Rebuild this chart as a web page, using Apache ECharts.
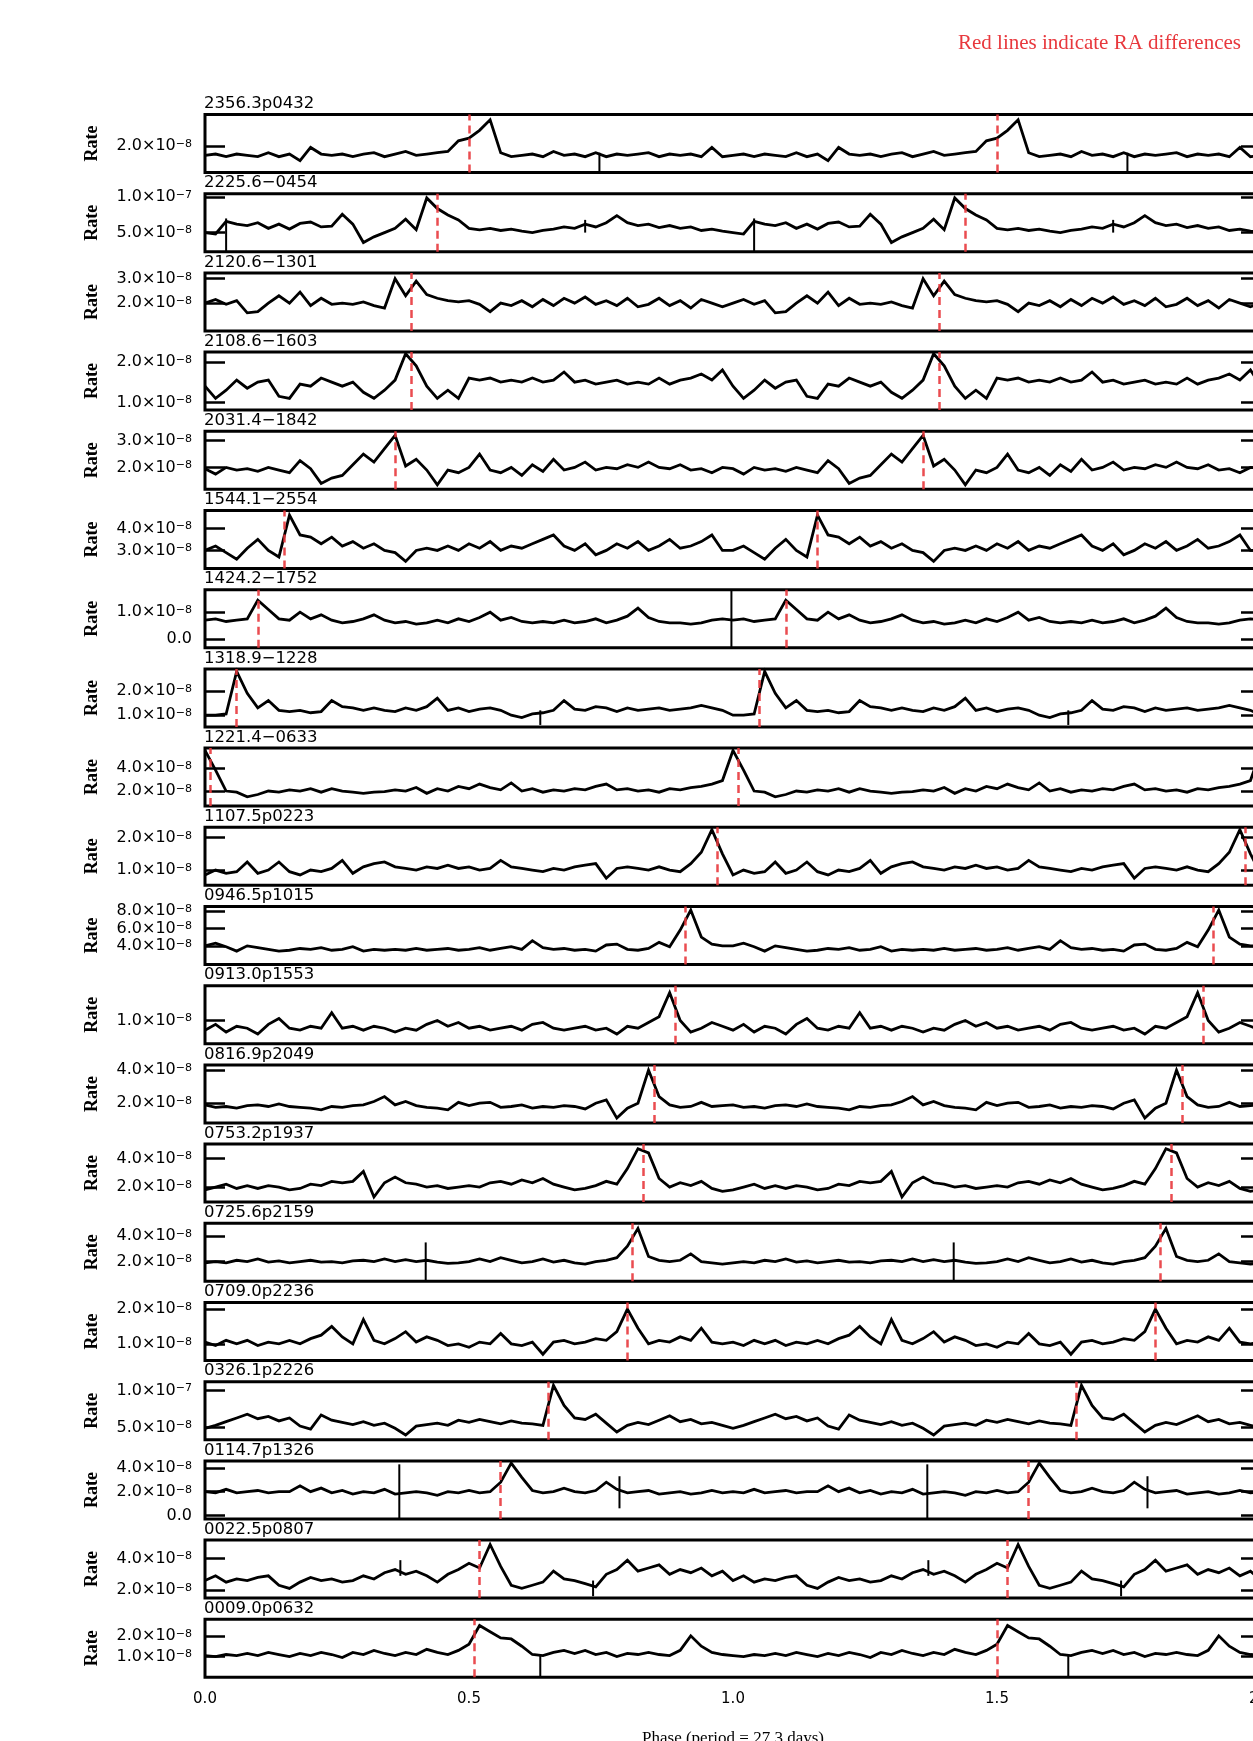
<!DOCTYPE html>
<html>
<head>
<meta charset="utf-8">
<script src="https://cdn.jsdelivr.net/npm/echarts@6/dist/echarts.min.js"></script>
<style>html,body{margin:0;padding:0;background:#fff}#c{width:1253px;height:1741px}</style>
</head>
<body>
<div id="c"></div>
<script>
// ---- data (rates in units of 1e-8; one folded cycle, bins of 0.02 in phase) ----
const PHASE_BIN = 0.02;
const sourceNames = ['2356.3p0432','2225.6\u22120454','2120.6\u22121301','2108.6\u22121603','2031.4\u22121842',
  '1544.1\u22122554','1424.2\u22121752','1318.9\u22121228','1221.4\u22120633','1107.5p0223','0946.5p1015',
  '0913.0p1553','0816.9p2049','0753.2p1937','0725.6p2159','0709.0p2236','0326.1p2226','0114.7p1326',
  '0022.5p0807','0009.0p0632'];
const redPhase = [0.50,0.44,0.39,0.385,0.358,0.155,0.10,0.055,0.015,0.968,0.91,0.885,0.85,0.835,0.815,0.80,0.647,0.555,0.518,0.505];
const yMin = [1.0,2.3,0.86,0.81,1.18,2.18,-0.33,0.52,0.7,0.53,1.87,0.4,0.81,0.94,0.45,0.52,3.36,-0.29,1.48,0.0];
const yMax = [3.2,10.5,3.24,2.24,3.35,4.81,1.84,2.9,5.7,2.32,8.5,1.9,4.31,5.02,5.0,2.19,11.2,4.59,5.18,2.8];
const yTickValues = [[2],[10,5],[3,2],[2,1],[3,2],[4,3],[1,0],[2,1],[4,2],[2,1],[8,6,4],[1],[4,2],[4,2],[4,2],[2,1],[10,5],[4,2,0],[4,2],[2,1]];
const xTickLabels = [0,0.5,1,1.5,2];

const rate_2356 = [1.65,1.7,1.6,1.7,1.65,1.6,1.75,1.6,1.7,1.45,1.95,1.7,1.65,1.7,1.6,1.7,1.75,1.6,1.7,1.8,1.65,1.7,1.75,1.8,2.2,2.3,2.6,3.0,1.75,1.6,1.65,1.7,1.6,1.8,1.65,1.7,1.6,1.75,1.6,1.7,1.65,1.7,1.75,1.6,1.7,1.65,1.7,1.6,1.95,1.6];
const rate_2225 = [5.0,4.8,6.6,6.2,6.0,6.4,5.6,6.2,5.5,6.3,6.5,5.8,5.9,7.6,6.2,3.6,4.4,5.0,5.6,6.9,5.4,9.9,8.4,7.5,6.8,5.6,5.4,5.6,5.3,5.5,5.2,5.0,5.3,5.5,5.8,5.6,6.2,5.8,6.4,7.4,6.4,6.0,6.2,5.7,6.0,5.6,5.8,5.3,5.5,5.2];
const rate_2120 = [2.0,2.15,1.95,2.1,1.6,1.65,2.0,2.3,2.0,2.45,1.9,2.2,1.95,2.0,1.95,2.05,1.9,1.8,3.0,2.3,2.9,2.35,2.2,2.1,2.05,2.1,1.95,1.65,2.0,1.9,2.1,1.85,2.15,1.9,2.2,2.0,2.25,1.95,2.1,1.9,2.2,1.85,1.95,2.2,1.9,2.1,1.8,2.15,2.0,1.85];
const rate_2108 = [1.4,1.1,1.3,1.55,1.35,1.5,1.55,1.15,1.1,1.45,1.4,1.6,1.5,1.4,1.5,1.25,1.1,1.3,1.55,2.2,1.9,1.4,1.1,1.3,1.1,1.6,1.55,1.6,1.5,1.55,1.5,1.6,1.5,1.55,1.75,1.5,1.55,1.45,1.5,1.55,1.45,1.5,1.45,1.6,1.45,1.55,1.6,1.7,1.55,1.8];
const rate_2031 = [1.95,1.75,2.0,1.9,1.95,1.85,2.0,1.9,1.8,2.25,1.95,1.4,1.6,1.7,2.1,2.5,2.2,2.7,3.2,2.05,2.3,1.9,1.35,1.9,1.8,2.0,2.5,1.9,1.8,2.0,1.7,2.1,1.85,2.3,1.9,2.0,2.2,1.9,2.0,1.95,2.1,2.0,2.2,2.0,1.95,2.1,1.9,1.95,1.8,2.0];
const rate_1544 = [3.0,3.2,2.9,2.6,3.1,3.5,3.0,2.7,4.6,3.7,3.6,3.3,3.6,3.2,3.4,3.1,3.3,3.0,2.9,2.5,3.0,3.1,3.0,3.2,3.0,3.3,3.1,3.4,3.0,3.2,3.1,3.3,3.5,3.7,3.2,3.0,3.3,2.8,3.0,3.3,3.1,3.4,3.0,3.2,3.5,3.1,3.2,3.4,3.7,3.0];
const rate_1424 = [0.7,0.75,0.65,0.7,0.75,1.45,1.1,0.75,0.7,1.0,0.75,0.9,0.7,0.6,0.65,0.75,0.9,0.7,0.6,0.65,0.55,0.6,0.7,0.6,0.75,0.65,0.8,1.0,0.7,0.8,0.65,0.6,0.65,0.6,0.7,0.6,0.65,0.75,0.6,0.7,0.85,1.15,0.8,0.65,0.6,0.6,0.55,0.6,0.7,0.75];
const rate_1318 = [1.0,1.0,1.05,2.8,1.9,1.3,1.6,1.2,1.15,1.2,1.1,1.15,1.6,1.35,1.3,1.2,1.3,1.2,1.15,1.3,1.2,1.35,1.7,1.2,1.3,1.15,1.25,1.3,1.2,1.0,0.9,1.05,1.1,1.2,1.6,1.25,1.2,1.35,1.3,1.15,1.3,1.2,1.25,1.3,1.2,1.25,1.3,1.4,1.3,1.2];
const rate_1221 = [5.5,3.8,2.0,1.9,1.5,1.7,2.0,1.9,2.1,2.0,2.2,1.9,2.2,2.0,1.9,1.8,1.9,1.95,2.1,2.0,2.3,1.8,2.2,2.0,2.4,2.2,2.6,2.3,2.1,2.7,2.0,2.2,1.9,2.1,2.0,2.2,2.1,2.4,2.6,2.1,2.2,2.0,2.1,1.9,2.2,2.1,2.3,2.4,2.6,2.9];
const rate_1107 = [0.85,1.0,0.9,0.95,1.25,0.9,1.0,1.25,0.95,0.85,1.0,0.95,1.05,1.3,0.9,1.1,1.2,1.25,1.1,1.05,1.0,1.1,1.05,1.15,1.05,1.1,1.0,1.05,1.3,1.1,1.05,1.0,0.95,1.05,1.0,1.1,1.15,1.2,0.75,1.05,1.1,1.05,1.0,1.1,1.0,0.95,1.2,1.55,2.25,1.5];
const rate_0946 = [4.0,4.3,3.9,3.4,4.0,3.8,3.6,3.4,3.5,3.7,3.6,3.8,3.5,3.6,3.9,3.4,3.6,3.5,3.6,3.5,3.7,3.5,3.6,3.7,3.5,3.6,3.8,3.5,3.7,3.9,3.6,4.6,3.8,3.6,3.7,3.5,3.6,3.4,4.1,4.2,3.6,3.5,3.7,4.4,3.9,5.8,8.1,5.0,4.2,4.0];
const rate_0913 = [0.75,0.9,0.7,0.85,0.8,0.65,0.9,1.05,0.8,0.75,0.85,0.8,1.2,0.8,0.85,0.75,0.85,0.8,0.7,0.8,0.75,0.9,1.0,0.85,0.95,0.8,0.85,0.75,0.8,0.85,0.75,0.9,0.95,0.8,0.75,0.8,0.85,0.75,0.8,0.65,0.85,0.8,0.95,1.1,1.72,1.0,0.7,0.8,0.95,0.85];
const rate_0816 = [1.9,1.75,1.8,1.7,1.85,1.9,1.8,1.95,1.8,1.75,1.7,1.6,1.8,1.75,1.85,1.9,2.1,2.4,1.9,2.1,1.85,1.75,1.7,1.6,2.05,1.85,2.0,2.05,1.75,1.8,1.9,1.7,1.8,1.75,1.85,1.8,1.65,2.0,2.2,1.1,1.7,2.0,4.0,2.4,1.9,1.75,1.8,2.05,1.8,1.85];
const rate_0753 = [1.8,2.0,2.2,1.9,2.1,1.9,2.1,2.0,1.8,1.9,2.2,2.1,2.4,2.3,2.4,3.1,1.3,2.3,2.7,2.3,2.2,2.0,2.1,1.9,2.0,2.1,2.0,2.3,2.4,2.2,2.5,2.3,2.6,2.2,2.0,1.8,1.9,2.1,2.4,2.2,3.3,4.7,4.4,2.6,2.0,2.3,2.1,2.4,1.9,1.7];
const rate_0725 = [1.9,2.0,1.9,2.1,2.0,2.2,1.95,2.05,1.9,2.0,2.1,1.95,2.0,1.9,2.05,2.1,2.0,2.2,2.0,2.15,2.0,2.1,1.95,1.85,1.9,2.0,2.2,2.0,2.3,2.1,1.9,2.0,2.2,1.95,2.1,1.9,1.8,2.0,2.1,2.3,3.2,4.6,2.4,2.1,2.0,2.1,2.6,2.0,1.9,1.8];
const rate_0709 = [1.05,0.95,1.1,1.0,1.1,0.95,1.05,1.0,1.1,1.0,1.15,1.25,1.5,1.2,1.0,1.7,1.1,1.0,1.15,1.35,1.05,1.2,1.1,0.95,1.0,0.9,1.05,1.0,1.3,1.0,0.95,1.05,0.7,1.05,1.1,1.0,1.05,1.15,1.1,1.35,2.0,1.45,1.0,1.1,1.05,1.2,1.1,1.45,1.05,1.0];
const rate_0326 = [4.9,5.3,5.8,6.3,6.8,6.2,6.5,5.9,6.3,5.2,4.8,6.7,6.0,5.7,5.4,5.8,5.3,5.6,4.9,4.0,5.2,5.4,5.6,5.3,6.0,5.7,6.1,5.8,5.5,5.9,5.6,5.5,5.3,10.7,8.0,6.3,6.1,6.8,5.6,4.4,5.3,5.7,5.4,6.0,6.6,5.8,6.1,5.5,5.7,5.3];
const rate_0114 = [2.0,1.9,2.2,1.9,2.0,2.1,1.9,2.0,2.0,2.5,2.0,2.3,1.9,2.1,1.8,2.0,1.9,2.2,1.8,1.9,2.0,1.9,1.7,2.0,1.9,2.1,1.9,2.0,2.8,4.4,3.2,2.1,1.9,2.0,2.3,2.0,1.9,2.1,2.8,2.2,1.9,2.0,2.1,1.8,1.9,2.0,1.8,1.9,2.1,1.9];
const rate_0022 = [2.6,2.9,2.5,2.7,2.6,2.8,2.9,2.3,2.1,2.5,2.8,2.6,2.7,2.5,2.6,2.9,2.7,3.1,3.3,3.0,3.2,2.9,2.5,3.0,3.3,3.7,3.4,4.9,3.5,2.3,2.1,2.3,2.5,3.2,2.7,2.6,2.4,2.2,3.0,3.3,3.9,3.2,3.4,3.6,3.0,3.3,3.1,3.4,2.9,3.2];
const rate_0009 = [1.05,1.0,1.1,1.05,1.15,1.05,1.2,1.1,1.0,1.15,1.05,1.2,1.1,0.95,1.2,1.1,1.3,1.15,1.05,1.2,1.1,1.35,1.2,1.1,1.3,1.6,2.5,2.2,1.9,1.85,1.5,1.1,1.05,1.2,1.3,1.15,1.3,1.1,1.2,1.0,1.15,1.1,1.2,1.1,1.05,1.3,2.0,1.5,1.2,1.1];
const rates = [rate_2356,rate_2225,rate_2120,rate_2108,rate_2031,rate_1544,rate_1424,rate_1318,rate_1221,rate_1107,
  rate_0946,rate_0913,rate_0816,rate_0753,rate_0725,rate_0709,rate_0326,rate_0114,rate_0022,rate_0009];
// single-bin error bars: [panel, phase, low, high]
const errorBars = [[0,0.747,1.0,1.75],[1,0.04,2.4,7.0],[1,0.72,5.0,6.8],[6,0.997,-0.33,1.84],[7,0.635,0.6,1.2],
  [14,0.418,0.45,3.5],[17,0.368,-0.29,4.3],[17,0.785,0.6,3.3],[18,0.37,2.9,3.9],[18,0.735,1.6,2.6],[19,0.635,0.0,1.05]];

// ---- layout / style ----
const N = rates.length;
const LEFT = 205, WIDTH = 1056, TOP0 = 114.5, STEP = 79.2, H = 58;
const SANS = 'DejaVu Sans', SERIF = 'Liberation Serif';
const RED = '#e8383d';

function fmtLabel(v){
  if (Math.abs(v) < 1e-9) return '{m|0.0}';
  if (v >= 10) return '{m|' + (v/10).toFixed(1) + '\u00d710}{s|\u22127}';
  return '{m|' + v.toFixed(1) + '\u00d710}{s|\u22128}';
}

const grids = [], xAxes = [], yAxes = [], series = [], titles = [];
titles.push({text:'Red lines indicate RA differences', right:12, top:33, padding:0,
  textStyle:{color:RED, fontSize:21, fontFamily:SERIF, fontWeight:'normal'}});

for (let i = 0; i < N; i++) {
  const top = TOP0 + i*STEP;
  grids.push({left:LEFT, width:WIDTH, top:top, height:H, show:true, borderColor:'#000', borderWidth:3,
    backgroundColor:'transparent', outerBoundsMode:'none', containLabel:false});
  titles.push({text:sourceNames[i], left:LEFT - 1, top:top-19, padding:0,
    textStyle:{color:'#000', fontSize:16.5, fontFamily:SANS, fontWeight:'normal'}});
  const last = i === N-1;
  xAxes.push({type:'value', gridIndex:i, min:0, max:2, interval:0.5,
    axisLine:{show:false}, axisTick:{show:false}, splitLine:{show:false},
    axisLabel:{show:last, margin:14, fontSize:15, fontFamily:SANS, color:'#000',
      customValues: xTickLabels, formatter:v=>v.toFixed(1)},
    name: last ? 'Phase (period = 27.3 days)' : '', nameLocation:'middle', nameGap:53,
    nameTextStyle:{fontSize:17, fontFamily:SERIF, color:'#000'}});
  yAxes.push({type:'value', gridIndex:i, min:yMin[i], max:yMax[i], position:'left',
    axisLine:{show:false}, splitLine:{show:false},
    axisTick:{show:true, inside:true, length:20, lineStyle:{color:'#000', width:2.5}, customValues:yTickValues[i]},
    axisLabel:{show:true, margin:13, hideOverlap:false, customValues:yTickValues[i], formatter:fmtLabel,
      rich:{m:{fontSize:16, lineHeight:15, fontFamily:SANS, color:'#000'},
            s:{fontSize:11, lineHeight:11, fontFamily:SANS, color:'#000', verticalAlign:'top'}}},
    name:'Rate', nameLocation:'middle', nameRotate:90, nameGap:104,
    nameTextStyle:{fontSize:18, fontFamily:SERIF, fontWeight:'bold', color:'#000'}});
  yAxes.push({type:'value', gridIndex:i, min:yMin[i], max:yMax[i], position:'right',
    axisLine:{show:false}, splitLine:{show:false}, axisLabel:{show:false},
    axisTick:{show:true, inside:true, length:20, lineStyle:{color:'#000', width:2.5}, customValues:yTickValues[i]}});

  const vals = rates[i];
  const pts = [];
  for (let c = 0; c < 2; c++) vals.forEach((v,k)=>pts.push([c + k*PHASE_BIN, v]));
  pts.push([2, vals[0]]);
  series.push({type:'line', xAxisIndex:i, yAxisIndex:2*i, data:pts, showSymbol:false,
    silent:true, animation:false, lineStyle:{color:'#000', width:2.8, join:'miter'}, z:3,
    markLine:{symbol:'none', silent:true, animation:false, label:{show:false},
      lineStyle:{color:RED, type:[8,5], width:2.5, opacity:0.9},
      data:[{xAxis:redPhase[i]},{xAxis:redPhase[i]+1}]}});

  const bars = errorBars.filter(b=>b[0]===i);
  if (bars.length) {
    const bd = [];
    bars.forEach(b=>{ bd.push([b[1], b[2], b[3]]); bd.push([b[1]+1, b[2], b[3]]); });
    series.push({type:'custom', xAxisIndex:i, yAxisIndex:2*i, data:bd, silent:true, animation:false, z:3,
      renderItem:(params, api)=>{
        const p1 = api.coord([api.value(0), api.value(1)]);
        const p2 = api.coord([api.value(0), api.value(2)]);
        return {type:'line', shape:{x1:p1[0], y1:p1[1], x2:p2[0], y2:p2[1]}, style:{stroke:'#000', lineWidth:2}};
      }});
  }
}

const chart = echarts.init(document.getElementById('c'), null, {renderer:'canvas'});
chart.setOption({backgroundColor:'#fff', animation:false, title:titles, grid:grids, xAxis:xAxes, yAxis:yAxes, series:series});
</script>
</body>
</html>
